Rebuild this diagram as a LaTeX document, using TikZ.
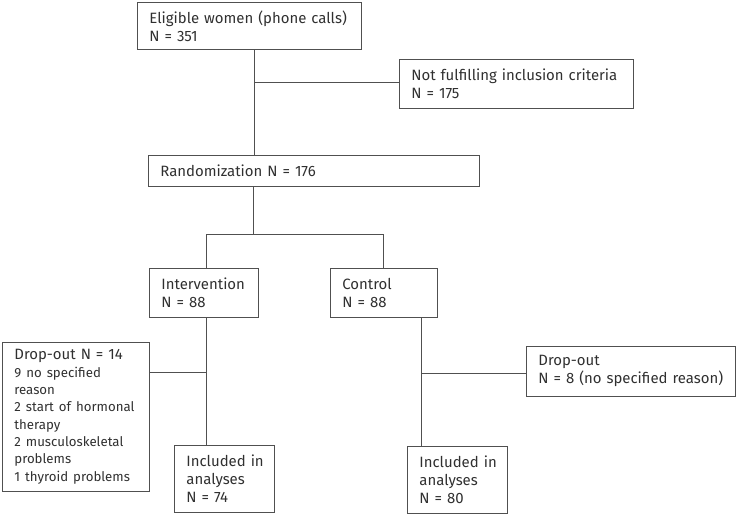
\documentclass[tikz,border=0pt]{standalone}
\usepackage{fontspec}
\setmainfont{Fira Sans}
\definecolor{linec}{HTML}{505050}
\definecolor{textc}{HTML}{303030}
\begin{document}
\begin{tikzpicture}[x=1bp,y=-1bp,
  fbox/.style={draw=linec, line width=0.8bp, text=textc, anchor=north west,
    inner xsep=12bp, inner ysep=0bp, align=left,
    font=\fontsize{15}{18}\selectfont},
  conn/.style={draw=linec, line width=0.8bp}]
\useasboundingbox (0,0) rectangle (737,515);
\newcommand{\bx}[7]{\node[fbox, minimum width=#4bp, minimum height=#5bp, text width=#6bp] (#1) at (#2,#3) {#7};}
\bx{elig}{137}{2}{224}{47}{200}{Eligible women (phone calls)\\N = 351}
\bx{notf}{399}{59}{234}{49}{210}{\mbox{Not fulfilling inclusion criteria}\\N = 175}
\bx{rand}{148}{155}{331}{31}{307}{Randomization N = 176}
\bx{interv}{149}{268}{109}{49}{85}{Intervention\\N = 88}
\bx{ctrl}{330}{268}{107}{49}{83}{Control\\N = 88}
\bx{dropL}{2}{342}{147}{149}{123}{\mbox{Drop-out N = 14}\\{\fontsize{13.3}{17.4}\selectfont 9 no specified\\reason\\\mbox{2 start of hormonal}\\therapy\\\mbox{2 musculoskeletal}\\problems\\\mbox{1 thyroid problems}}}
\bx{inclL}{174}{445}{100}{67}{76}{\mbox{Included in}\\analyses\\N = 74}
\bx{dropR}{526}{346}{209}{50}{185}{Drop-out\\\mbox{N = 8 (no specified reason)}}
\bx{inclR}{407}{446}{100}{67}{76}{\mbox{Included in}\\analyses\\N = 80}
% junctions
\coordinate (j1) at (254,82);
\coordinate (j2) at (253,234);
\coordinate (jl) at (206,234);
\coordinate (jr) at (383,234);
\coordinate (j3) at (206,372);
\coordinate (j4) at (421,373);
\draw[conn] (elig.south -| j1) -- (rand.north -| j1);
\draw[conn] (j1) -- (j1 -| notf.west);
\draw[conn] (rand.south -| j2) -- (j2);
\draw[conn] (interv.north -| jl) -- (jl) -- (jr) -- (ctrl.north -| jr);
\draw[conn] (interv.south -| j3) -- (inclL.north -| j3);
\draw[conn] (j3) -- (j3 -| dropL.east);
\draw[conn] (ctrl.south -| j4) -- (inclR.north -| j4);
\draw[conn] (j4) -- (j4 -| dropR.west);
\end{tikzpicture}
\end{document}
